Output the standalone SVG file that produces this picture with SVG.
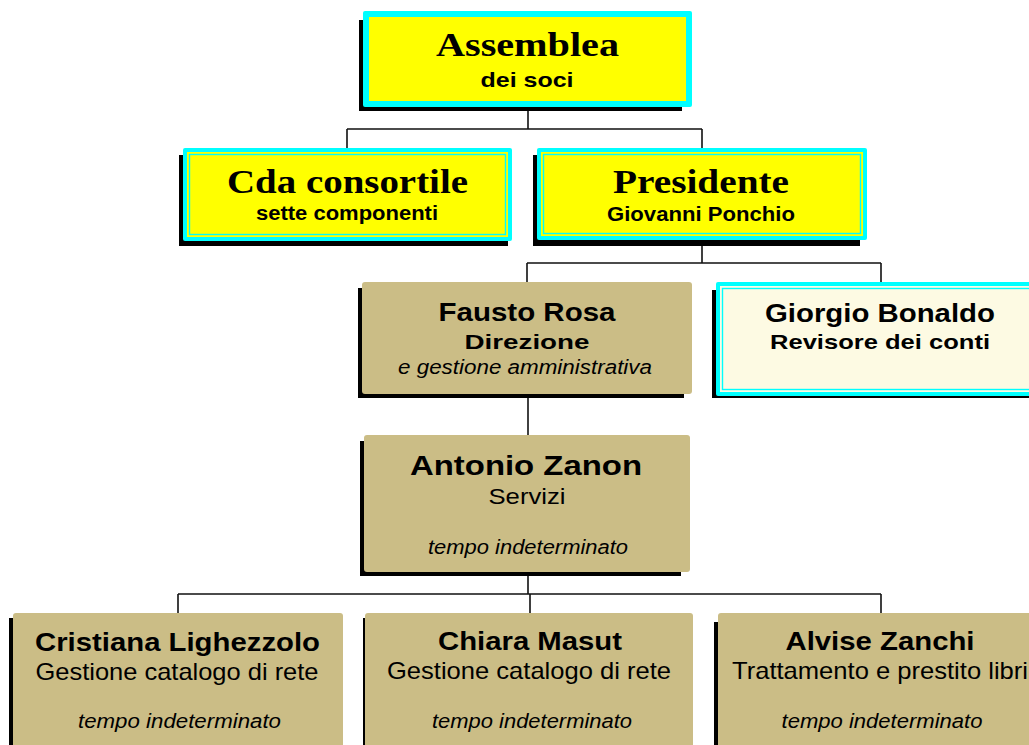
<svg xmlns="http://www.w3.org/2000/svg" width="1029" height="745" viewBox="0 0 1029 745">
<style>
.bg{fill:#ffffff}
.sh{fill:#000000}
.cy{fill:#00ffff}
.ye{fill:#ffff00}
.cr{fill:#fdfae3}
.tan{fill:#cbbd86}
.in{fill:none;stroke:#00ffff;stroke-width:1.4}
.conn{fill:none;stroke:#111111;stroke-width:1.6}
.ser{font-family:"Liberation Serif","Times New Roman",serif;font-weight:bold;fill:#000}
.sb{font-family:"Liberation Sans",Arial,sans-serif;font-weight:bold;fill:#000}
.sr{font-family:"Liberation Sans",Arial,sans-serif;fill:#000}
.si{font-family:"Liberation Sans",Arial,sans-serif;font-style:italic;fill:#000}
text{text-anchor:middle}
</style>
<rect class="bg" x="0" y="0" width="1029" height="745"/>
<g id="connectors">
<path class="conn" d="M528 107 V129 M347 129 H702 M347 129 V148 M702 129 V148"/>
<path class="conn" d="M702 240 V263 M527 263 H881 M527 263 V282 M881 263 V282"/>
<path class="conn" d="M528 394 V435"/>
<path class="conn" d="M528 572 V594 M178 594 H881 M178 594 V613 M530 594 V613 M881 594 V613"/>
</g>
<g id="assemblea">
<rect class="sh" x="359" y="20" width="323" height="91"/>
<rect class="cy" x="363" y="11" width="329" height="96" rx="2"/>
<rect class="ye" x="369" y="17" width="317" height="84"/>
<text class="ser" x="527.5" y="56" font-size="34" textLength="183" lengthAdjust="spacingAndGlyphs">Assemblea</text>
<text class="sb" x="527" y="87" font-size="21" textLength="93" lengthAdjust="spacingAndGlyphs">dei soci</text>
</g>
<g id="cda">
<rect class="sh" x="179" y="155" width="329" height="91"/>
<rect class="cy" x="183" y="148" width="329" height="93" rx="2"/>
<rect class="ye" x="187" y="152" width="321" height="85"/>
<rect class="in" x="189.5" y="154.5" width="316" height="80"/>
<text class="ser" x="347.5" y="193" font-size="33" textLength="241" lengthAdjust="spacingAndGlyphs">Cda consortile</text>
<text class="sb" x="347" y="220" font-size="20" textLength="182" lengthAdjust="spacingAndGlyphs">sette componenti</text>
</g>
<g id="presidente">
<rect class="sh" x="533" y="155" width="327" height="91"/>
<rect class="cy" x="537" y="148" width="330" height="92" rx="2"/>
<rect class="ye" x="541" y="152" width="322" height="84"/>
<rect class="in" x="543.5" y="154.5" width="317" height="79"/>
<text class="ser" x="701" y="193" font-size="33" textLength="176" lengthAdjust="spacingAndGlyphs">Presidente</text>
<text class="sb" x="701" y="221" font-size="20" textLength="188" lengthAdjust="spacingAndGlyphs">Giovanni Ponchio</text>
</g>
<g id="fausto">
<rect class="sh" x="358" y="288" width="326" height="110"/>
<rect class="tan" x="362" y="282" width="330" height="112" rx="3"/>
<text class="sb" x="527" y="321" font-size="25" textLength="177" lengthAdjust="spacingAndGlyphs">Fausto Rosa</text>
<text class="sb" x="527" y="349" font-size="21" textLength="125" lengthAdjust="spacingAndGlyphs">Direzione</text>
<text class="si" x="525" y="374" font-size="20" textLength="254" lengthAdjust="spacingAndGlyphs">e gestione amministrativa</text>
</g>
<g id="giorgio">
<rect class="sh" x="712" y="290" width="330" height="108"/>
<rect class="cy" x="716" y="282" width="330" height="114" rx="2"/>
<rect class="cr" x="720" y="286" width="322" height="106"/>
<rect class="in" x="722.5" y="288.5" width="317" height="101"/>
<text class="sb" x="880" y="322" font-size="25" textLength="230" lengthAdjust="spacingAndGlyphs">Giorgio Bonaldo</text>
<text class="sb" x="880" y="349" font-size="21" textLength="220" lengthAdjust="spacingAndGlyphs">Revisore dei conti</text>
</g>
<g id="antonio">
<rect class="sh" x="360" y="441" width="321" height="135"/>
<rect class="tan" x="364" y="435" width="326" height="137" rx="3"/>
<text class="sb" x="526" y="475" font-size="28" textLength="232" lengthAdjust="spacingAndGlyphs">Antonio Zanon</text>
<text class="sr" x="527" y="504" font-size="22" textLength="77" lengthAdjust="spacingAndGlyphs">Servizi</text>
<text class="si" x="528" y="554" font-size="20" textLength="200" lengthAdjust="spacingAndGlyphs">tempo indeterminato</text>
</g>
<g id="cristiana">
<rect class="sh" x="9" y="618" width="330" height="140"/>
<rect class="tan" x="13" y="613" width="330" height="140" rx="3"/>
<text class="sb" x="177.5" y="651" font-size="26" textLength="285" lengthAdjust="spacingAndGlyphs">Cristiana Lighezzolo</text>
<text class="sr" x="177" y="680" font-size="24" textLength="283" lengthAdjust="spacingAndGlyphs">Gestione catalogo di rete</text>
<text class="si" x="179.5" y="728" font-size="20" textLength="203" lengthAdjust="spacingAndGlyphs">tempo indeterminato</text>
</g>
<g id="chiara">
<rect class="sh" x="363" y="618" width="326" height="140"/>
<rect class="tan" x="365" y="613" width="328" height="140" rx="3"/>
<text class="sb" x="530" y="650" font-size="26" textLength="184" lengthAdjust="spacingAndGlyphs">Chiara Masut</text>
<text class="sr" x="529" y="679" font-size="24" textLength="284" lengthAdjust="spacingAndGlyphs">Gestione catalogo di rete</text>
<text class="si" x="532" y="728" font-size="20" textLength="200" lengthAdjust="spacingAndGlyphs">tempo indeterminato</text>
</g>
<g id="alvise">
<rect class="sh" x="714" y="622" width="330" height="140"/>
<rect class="tan" x="718" y="613" width="330" height="140" rx="3"/>
<text class="sb" x="880" y="650" font-size="26" textLength="189" lengthAdjust="spacingAndGlyphs">Alvise Zanchi</text>
<text class="sr" x="880" y="679" font-size="24" textLength="296" lengthAdjust="spacingAndGlyphs">Trattamento e prestito libri</text>
<text class="si" x="882" y="728" font-size="20" textLength="201" lengthAdjust="spacingAndGlyphs">tempo indeterminato</text>
</g>
</svg>
